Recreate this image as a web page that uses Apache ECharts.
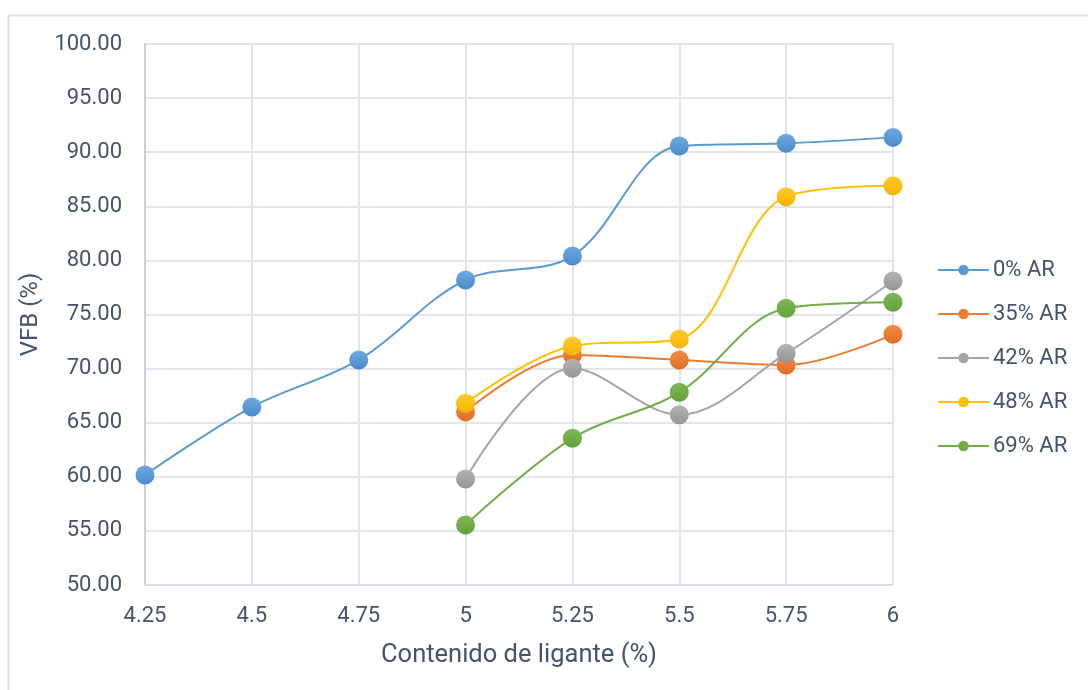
<!DOCTYPE html>
<html>
<head>
<meta charset="utf-8">
<script src="https://cdn.jsdelivr.net/npm/echarts@6/dist/echarts.min.js"></script>
<style>
  html, body { margin: 0; padding: 0; background: #fff; }
  #chart { width: 1088px; height: 690px; }
</style>
</head>
<body>
<div id="chart"></div>
<script>
// Binder content (%) on the x axis
const categories = ['4.25', '4.5', '4.75', '5', '5.25', '5.5', '5.75', '6'];

// VFB (%) per mix
const ar0  = [60.17, 66.45, 70.80, 78.19, 80.40, 90.57, 90.82, 91.37];
const ar35 = [null, null, null, 66.00, 71.26, 70.80, 70.33, 73.17];
const ar42 = [null, null, null, 59.80, 70.03, 65.74, 71.41, 78.10];
const ar48 = [null, null, null, 66.79, 72.09, 72.74, 85.89, 86.90];
const ar69 = [null, null, null, 55.55, 63.56, 67.81, 75.57, 76.13];

const seriesNames = ['0% AR', '35% AR', '42% AR', '48% AR', '69% AR'];
const seriesData = [ar0, ar35, ar42, ar48, ar69];
const colors = ['#5B9BD5', '#ED7D31', '#A5A5A5', '#FFC000', '#70AD47'];
const lightColors = ['#6FAAE0', '#F28C48', '#B4B4B4', '#FFCB2E', '#7DB855'];
const darkColors = ['#4A8ACB', '#E06E22', '#959595', '#F5B400', '#64A03D'];

const textColor = '#44546A';
const fontFamily = 'Roboto, "Noto Sans", sans-serif';

const chart = echarts.init(document.getElementById('chart'), null, { renderer: 'canvas' });

const series = seriesNames.map((name, i) => ({
  name: name,
  type: 'line',
  data: seriesData[i],
  smooth: 0.35,
  connectNulls: false,
  symbol: 'circle',
  symbolSize: 19,
  lineStyle: { color: colors[i], width: 2 },
  itemStyle: {
    color: new echarts.graphic.LinearGradient(0, 0, 0, 1, [
      { offset: 0, color: lightColors[i] },
      { offset: 1, color: darkColors[i] }
    ])
  },
  emphasis: { disabled: true },
  z: 2 + i
}));

chart.setOption({
  animation: false,
  backgroundColor: '#ffffff',
  color: colors,
  graphic: [{
    type: 'rect',
    shape: { x: 8.5, y: 15.5, width: 1200, height: 800 },
    style: { fill: 'none', stroke: '#DDE1E8', lineWidth: 2 },
    silent: true,
    z: -10
  }],
  grid: { left: 145, right: 195, top: 44, bottom: 105 },
  legend: {
    orient: 'vertical',
    left: 932,
    top: 253,
    itemWidth: 51,
    itemHeight: 13,
    itemGap: 20,
    textStyle: { color: textColor, fontSize: 22, lineHeight: 24, fontFamily: fontFamily, padding: [0, 0, 0, -1] },
    data: seriesNames.map((n, i) => ({
      name: n,
      itemStyle: { color: colors[i] },
      lineStyle: { color: colors[i], width: 2 }
    }))
  },
  xAxis: {
    type: 'category',
    data: categories,
    boundaryGap: false,
    name: 'Contenido de ligante (%)',
    nameLocation: 'middle',
    nameGap: 58,
    nameTextStyle: { color: textColor, fontSize: 25.5, fontFamily: fontFamily },
    axisLine: { show: true, lineStyle: { color: '#D6DCE5', width: 2 } },
    axisTick: { show: false },
    axisLabel: { color: textColor, fontSize: 22, fontFamily: fontFamily, margin: 20 },
    splitLine: { show: true, lineStyle: { color: '#E1E5EC', width: 2 } }
  },
  yAxis: {
    type: 'value',
    min: 50,
    max: 100,
    interval: 5,
    name: 'VFB (%)',
    nameLocation: 'middle',
    nameGap: 100,
    nameTextStyle: { color: textColor, fontSize: 24, fontFamily: fontFamily },
    axisLine: { show: true, lineStyle: { color: '#C5CFDE', width: 2 } },
    axisTick: { show: false },
    axisLabel: {
      color: textColor, fontSize: 22, fontFamily: fontFamily, margin: 23,
      formatter: v => v.toFixed(2)
    },
    splitLine: { show: true, lineStyle: { color: '#E1E5EC', width: 2 } }
  },
  series: series
});
</script>
</body>
</html>
